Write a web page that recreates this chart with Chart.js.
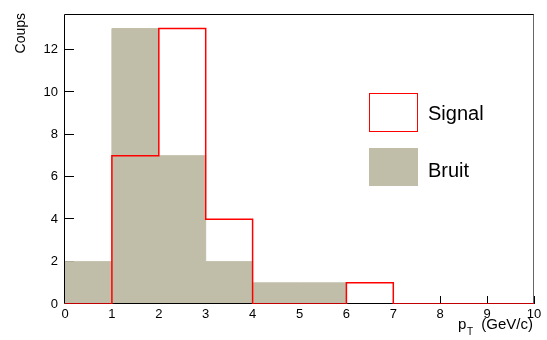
<!DOCTYPE html>
<html>
<head>
<meta charset="utf-8">
<script src="https://cdn.jsdelivr.net/npm/chart.js@4/dist/chart.umd.min.js"></script>
<style>
  html, body { margin: 0; padding: 0; background: #ffffff; }
  canvas { display: block; }
</style>
</head>
<body>
<canvas id="c" width="547" height="340" style="width:547px;height:340px"></canvas>
<script>
// ---- data ----
const binEdges = [0, 1, 2, 3, 4, 5, 6, 7, 8, 9, 10];
const signalCounts = [0, 7, 13, 4, 0, 0, 1, 0, 0, 0];
const bruitCounts = [2, 13, 7, 2, 1, 1, 0, 0, 0, 0];
const xTickValues = [0, 1, 2, 3, 4, 5, 6, 7, 8, 9, 10];
const yTickValues = [0, 2, 4, 6, 8, 10, 12];
const seriesNames = ['Signal', 'Bruit'];
const yAxisTitle = 'Coups';
const xAxisTitleMain = 'p';
const xAxisTitleSub = 'T';
const xAxisTitleRest = '(GeV/c)';
const yMax = 13.65;

// ---- styles ----
const RED = '#ff0000';
const GREY = 'rgb(192,190,168)';
const FONT = '"Liberation Sans", Arial, sans-serif';

function histPoints(counts) {
  const pts = counts.map((c, i) => ({ x: binEdges[i], y: c }));
  pts.push({ x: binEdges[counts.length], y: counts[counts.length - 1] });
  return pts;
}

const framePlugin = {
  id: 'rootFrame',
  beforeDatasetsDraw(chart) {
    const ctx = chart.ctx, a = chart.chartArea;
    const xs = chart.scales.x, ys = chart.scales.y;
    ctx.save();
    ctx.strokeStyle = '#000';
    ctx.lineWidth = 1;
    ctx.beginPath();
    xTickValues.forEach(v => {
      const px = Math.round(xs.getPixelForValue(v)) + 0.5;
      ctx.moveTo(px, a.bottom);
      ctx.lineTo(px, a.bottom - 8);
    });
    yTickValues.forEach(v => {
      const py = Math.round(ys.getPixelForValue(v)) - 0.5;
      ctx.moveTo(a.left, py);
      ctx.lineTo(a.left + 9, py);
    });
    ctx.stroke();
    ctx.restore();
  },
  beforeDatasetDraw(chart, args) {
    if (args.index !== 0) return;
    const ctx = chart.ctx, a = chart.chartArea;
    ctx.save();
    ctx.lineWidth = 1;
    ctx.strokeStyle = '#000';
    ctx.beginPath();
    ctx.moveTo(a.right, Math.round(a.top) - 0.5);
    ctx.lineTo(a.left - 0.5, Math.round(a.top) - 0.5);
    ctx.lineTo(a.left - 0.5, a.bottom - 0.5);
    ctx.lineTo(a.right, a.bottom - 0.5);
    ctx.stroke();
    ctx.strokeStyle = '#666';
    ctx.beginPath();
    ctx.moveTo(a.right - 0.5, Math.round(a.top) - 0.5);
    ctx.lineTo(a.right - 0.5, a.bottom - 0.5);
    ctx.stroke();
    ctx.restore();
  },
  afterDraw(chart) {
    const ctx = chart.ctx;
    ctx.save();
    ctx.fillStyle = '#000';
    // y axis title
    ctx.font = '14px ' + FONT;
    ctx.translate(25, 13);
    ctx.rotate(-Math.PI / 2);
    ctx.textAlign = 'right';
    ctx.textBaseline = 'alphabetic';
    ctx.fillText(yAxisTitle, 0, 0);
    ctx.restore();

    // x axis title with subscript
    ctx.save();
    ctx.fillStyle = '#000';
    ctx.textBaseline = 'alphabetic';
    const base = 329;
    ctx.font = '15px ' + FONT;
    ctx.textAlign = 'left';
    ctx.fillText(xAxisTitleMain, 458, base);
    ctx.font = '10px ' + FONT;
    ctx.fillText(xAxisTitleSub, 467, base + 6);
    ctx.font = '15px ' + FONT;
    ctx.textAlign = 'right';
    ctx.fillText(xAxisTitleRest, 533, base);
    ctx.restore();

    // legend
    ctx.save();
    const boxX = 369, boxW = 49;
    ctx.fillStyle = '#fff';
    ctx.fillRect(boxX, 93, boxW, 39);
    ctx.strokeStyle = RED;
    ctx.lineWidth = 1;
    ctx.strokeRect(boxX + 0.5, 93.5, boxW - 1, 38);
    ctx.fillStyle = GREY;
    ctx.fillRect(boxX, 148, boxW, 38);
    ctx.fillStyle = '#000';
    ctx.font = '20px ' + FONT;
    ctx.textAlign = 'left';
    ctx.textBaseline = 'alphabetic';
    ctx.fillText(seriesNames[0], 428, 119.5);
    ctx.fillText(seriesNames[1], 428, 177);
    ctx.restore();
  }
};

new Chart(document.getElementById('c'), {
  type: 'line',
  data: {
    datasets: [
      {
        label: seriesNames[0],
        data: histPoints(signalCounts),
        borderColor: RED,
        borderWidth: 1.5,
        backgroundColor: 'rgba(0,0,0,0)',
        fill: false,
        stepped: 'before',
        pointRadius: 0,
        order: 0
      },
      {
        label: seriesNames[1],
        data: histPoints(bruitCounts),
        borderColor: GREY,
        borderWidth: 1,
        backgroundColor: GREY,
        fill: 'origin',
        stepped: 'before',
        pointRadius: 0,
        order: 1
      }
    ]
  },
  options: {
    responsive: false,
    animation: false,
    devicePixelRatio: 1,
    layout: { padding: { left: 0, right: 13, top: 11.5, bottom: 0 } },
    plugins: { legend: { display: false }, tooltip: { enabled: false } },
    scales: {
      x: {
        type: 'linear',
        min: 0, max: 10,
        grid: { display: false, drawTicks: false },
        border: { display: false },
        afterBuildTicks: s => { s.ticks = xTickValues.map(v => ({ value: v })); },
        afterFit: s => { s.height = 36; },
        ticks: { color: '#000', font: { family: FONT, size: 13 }, padding: 3, maxRotation: 0, autoSkip: false }
      },
      y: {
        type: 'linear',
        min: 0, max: yMax,
        grid: { display: false, drawTicks: false },
        border: { display: false },
        afterBuildTicks: s => { s.ticks = yTickValues.map(v => ({ value: v })); },
        afterFit: s => { s.width = 65; },
        ticks: { color: '#000', font: { family: FONT, size: 13 }, padding: 7 }
      }
    }
  },
  plugins: [framePlugin]
});
</script>
</body>
</html>
